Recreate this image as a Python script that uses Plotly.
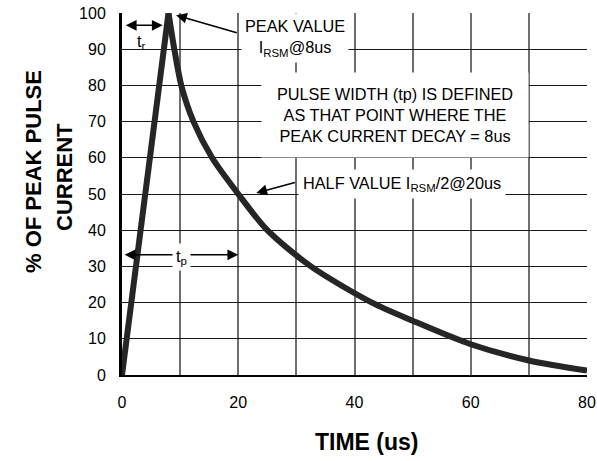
import plotly.graph_objects as go

# ---- data ----
rise_time_us = [0, 8]
rise_pct = [0, 100]
decay_time_us = [8, 9, 10.2, 12.3, 15.5, 20, 25, 32.5, 43, 50, 60, 70, 80]
decay_pct = [100, 90, 80, 70, 60, 50, 40, 30, 20, 15, 8.5, 4, 1.2]
x_tick_vals = [0, 10, 20, 30, 40, 50, 60, 70, 80]
x_tick_text = ["0", "", "20", "", "40", "", "60", "", "80"]
y_tick_vals = [0, 10, 20, 30, 40, 50, 60, 70, 80, 90, 100]

W, H = 597, 461
L, R, T, B = 122, 587, 13, 375
FONT = "Arial, Liberation Sans, sans-serif"
CURVE = "#262626"
AFS = 16.3


def px(x):
    return (x - L) / (R - L)


def py(y):
    return (B - y) / (B - T)


fig = go.Figure()
fig.add_trace(go.Scatter(x=rise_time_us, y=rise_pct, mode="lines",
                         line=dict(color=CURVE, width=6), hoverinfo="skip"))
fig.add_trace(go.Scatter(x=decay_time_us, y=decay_pct, mode="lines",
                         line=dict(color=CURVE, width=6, shape="spline", smoothing=0.8),
                         hoverinfo="skip"))

C = dict(xanchor="center", yanchor="middle")
ann = []
# y title (two lines)
ann.append(dict(text="<b>% OF PEAK PULSE</b>", x=px(33), y=py(172), xref="paper", yref="paper",
                showarrow=False, textangle=-90, font=dict(family=FONT, size=22, color="black"), **C))
ann.append(dict(text="<b>CURRENT</b>", x=px(65), y=py(177), xref="paper", yref="paper",
                showarrow=False, textangle=-90, font=dict(family=FONT, size=22, color="black"), **C))
# x title
ann.append(dict(text="<b>TIME (us)</b>", x=px(367), y=py(442), xref="paper", yref="paper",
                showarrow=False, font=dict(family=FONT, size=23, color="black"), **C))

# arrows
arrow_common = dict(xref="x", yref="y", axref="x", ayref="y", text="", showarrow=True,
                    arrowhead=2, arrowsize=1.35, arrowwidth=1.6, arrowcolor="black",
                    standoff=0, startstandoff=0)
ann.append(dict(x=9.3, y=99.4, ax=20, ay=94.4, **arrow_common))
ann.append(dict(x=23.1, y=50.3, ax=30.0, ay=53.3, **arrow_common))
ann.append(dict(x=7.0, y=96.6, ax=0.4, ay=96.6, arrowside="end+start", startarrowhead=2,
                startarrowsize=1.35, **arrow_common))
ann.append(dict(x=20.0, y=33.2, ax=0.2, ay=33.2, arrowside="end+start", startarrowhead=2,
                startarrowsize=1.35, **arrow_common))

# labels
ann.append(dict(text="t<sub>r</sub>", x=3.4, y=92.0, xref="x", yref="y", showarrow=False,
                font=dict(family=FONT, size=AFS, color="black"), **C))
ann.append(dict(text="t<sub>p</sub>", x=10.2, y=32.6, xref="x", yref="y", showarrow=False,
                bgcolor="white", borderpad=3, font=dict(family=FONT, size=AFS, color="black"), **C))
ann.append(dict(text="PEAK VALUE<br>I<sub>RSM</sub>@8us", x=px(295), y=py(38), xref="paper",
                yref="paper", showarrow=False, bgcolor="white", borderpad=3,
                font=dict(family=FONT, size=AFS, color="black"), **C))
ann.append(dict(text="PULSE WIDTH (tp) IS DEFINED<br>AS THAT POINT WHERE THE<br>PEAK CURRENT DECAY = 8us",
                x=px(395), y=py(115), xref="paper", yref="paper", showarrow=False,
                bgcolor="white", borderpad=2, width=262, height=80,
                font=dict(family=FONT, size=AFS, color="black"), **C))
ann.append(dict(text="HALF VALUE I<sub>RSM</sub>/2@20us", x=px(402), y=py(184), xref="paper",
                yref="paper", showarrow=False, bgcolor="white", borderpad=4,
                font=dict(family=FONT, size=AFS, color="black"), **C))

fig.update_layout(
    width=W, height=H,
    margin=dict(l=L, r=W - R, t=T, b=H - B, autoexpand=False),
    paper_bgcolor="white", plot_bgcolor="white",
    showlegend=False,
    annotations=ann,
    xaxis=dict(range=[0, 80], tickvals=x_tick_vals, ticktext=x_tick_text,
               showgrid=True, gridcolor="#6e6e6e", gridwidth=2, automargin=False,
               showline=True, linecolor="black", linewidth=2, zeroline=False,
               ticks="", ticklabelstandoff=12,
               tickfont=dict(family=FONT, size=16, color="black")),
    yaxis=dict(range=[0, 100], tickvals=y_tick_vals, automargin=False,
               showgrid=True, gridcolor="#1a1a1a", gridwidth=1,
               showline=True, linecolor="black", linewidth=3, zeroline=False,
               ticks="", ticklabelstandoff=10,
               tickfont=dict(family=FONT, size=16, color="black")),
)

fig.write_html("out.html")
